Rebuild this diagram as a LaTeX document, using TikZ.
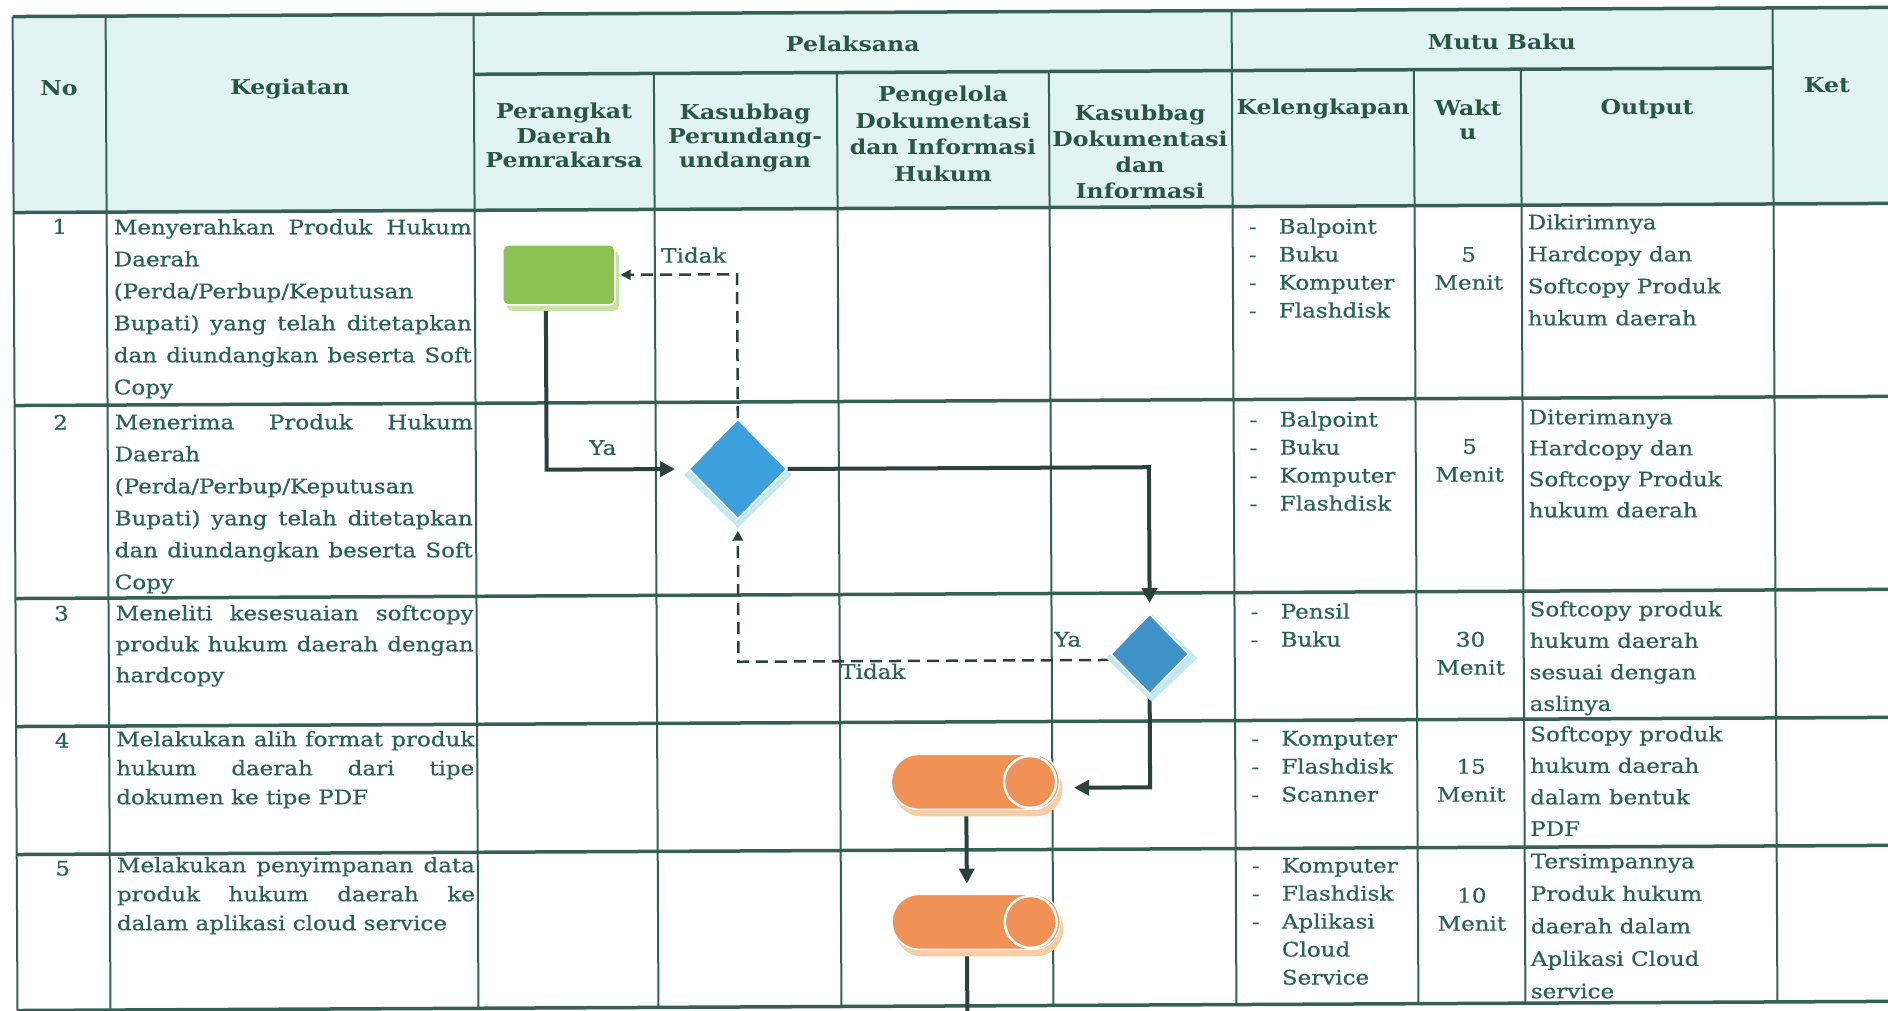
\documentclass[tikz,border=0pt]{standalone}
\usepackage{fontspec}
\setmainfont{DejaVu Serif}[FakeStretch=1.15,UprightFeatures={FakeBold=0.5}]
\usetikzlibrary{arrows.meta,shapes.geometric,calc}
\definecolor{tline}{RGB}{55,96,84}
\definecolor{ttext}{RGB}{42,98,84}
\definecolor{htext}{RGB}{42,86,72}
\definecolor{hbg}{RGB}{226,243,243}
\definecolor{conn}{RGB}{44,64,60}
\definecolor{gfill}{RGB}{140,194,82}
\definecolor{gshade}{RGB}{200,228,165}
\definecolor{bfillA}{RGB}{60,160,220}
\definecolor{bfillB}{RGB}{62,146,200}
\definecolor{bshade}{RGB}{195,232,240}
\definecolor{ofill}{RGB}{240,146,86}
\definecolor{oshade}{RGB}{248,204,165}
\pgfdeclarelayer{tab}
\pgfdeclarelayer{edges}
\pgfsetlayers{tab,edges,main}
\newcommand{\fl}{\rule{0pt}{16pt}}
\newcommand{\flh}{\rule{0pt}{15pt}}
\newcommand{\jk}[1]{\makebox[358pt][s]{#1}}
\begin{document}
\begin{tikzpicture}[x=1pt,y=-1pt,
  hl/.style={line width=3.5pt,draw=tline},
  vl/.style={line width=2pt,draw=tline},
  hdr/.style={text=htext,inner sep=0pt,align=center,font=\fontsize{20.5}{25}\selectfont\bfseries},
  body/.style={text=ttext,inner sep=0pt,align=left,anchor=north west},
  bodyc/.style={text=ttext,inner sep=0pt,align=center,anchor=north},
  lsp/.style={font=\fontsize{20}{#1}\selectfont},
  num/.style={text=ttext,inner sep=0pt,font=\fontsize{20}{24}\selectfont},
  lbl/.style={text=ttext,inner sep=0pt,font=\fontsize{20}{24}\selectfont},
  gsh/.style={fill=gshade,rounded corners=5pt,minimum width=112pt,minimum height=60pt,inner sep=0pt},
  gbox/.style={fill=gfill,draw=white,line width=1.5pt,rounded corners=5pt,minimum width=112pt,minimum height=60pt,inner sep=0pt},
  dia/.style={diamond,inner sep=0pt,draw=white,line width=1.5pt},
  capsule/.style={rounded corners=27pt,minimum width=168pt,minimum height=55pt,inner sep=0pt},
  solidc/.style={draw=conn,line width=4pt,-{Triangle[length=15pt,width=15pt]}},
  dashc/.style={draw=conn,line width=2.5pt,dash pattern=on 12pt off 7pt,-{Triangle[length=10pt,width=10pt]}}
]
\useasboundingbox (0,0) rectangle (1888,1010);
\begin{pgfonlayer}{tab}
\fill[white] (0,0) rectangle (1888,1010);
\end{pgfonlayer}
\begin{scope}[rotate around={0.28:(944,505)}]
% ---------- table ----------
\begin{pgfonlayer}{tab}
\fill[hbg] (15,12) rectangle (1910,208);
\draw[hl] (15,12) -- (1910,12);
\draw[hl] (476,72) -- (1775,72);
\foreach \yy in {208,401,594,722,850,1006} \draw[hl] (15,\yy) -- (1910,\yy);
\foreach \xx in {15,108,476,1234,1775} \draw[vl] (\xx,12) -- (\xx,1006);
\foreach \xx in {656,839,1051,1416,1523} \draw[vl] (\xx,72) -- (\xx,1006);
\end{pgfonlayer}
% ---------- header ----------
\node[hdr] (hno) at (61,84) {No};
\node[hdr] (hkeg) at (292,86) {Kegiatan};
\node[hdr] (hpel) at (855,43) {Pelaksana};
\node[hdr] (hmutu) at (1504,45) {Mutu Baku};
\node[hdr] (hket) at (1829,89) {Ket};
\node[hdr,anchor=north,font=\fontsize{20.5}{24.5}\selectfont\bfseries] (hper) at (566,101) {\flh Perangkat\\Daerah\\Pemrakarsa};
\node[hdr,anchor=north,font=\fontsize{20.5}{24}\selectfont\bfseries] (hkas) at (747,103) {\flh Kasubbag\\Perundang-\\undangan};
\node[hdr,anchor=north,font=\fontsize{20.5}{26.5}\selectfont\bfseries] (hpen) at (945,86) {\flh Pengelola\\Dokumentasi\\dan Informasi\\Hukum};
\node[hdr,anchor=north,font=\fontsize{20.5}{26}\selectfont\bfseries] (hkd) at (1142,106) {\flh Kasubbag\\Dokumentasi\\dan\\Informasi};
\node[hdr] (hkel) at (1325,111) {Kelengkapan};
\node[hdr,anchor=north,font=\fontsize{20.5}{24}\selectfont\bfseries] (hwak) at (1470,102) {\flh Wakt\\u};
\node[hdr] (hout) at (1649,112) {Output};
% ---------- numbers ----------
\node[num] (n1) at (61,222) {1};
\node[num] (n2) at (61,418) {2};
\node[num] (n3) at (61,609) {3};
\node[num] (n4) at (61,736) {4};
\node[num] (n5) at (61,864) {5};
% ---------- kegiatan ----------
\node[body,lsp=32] (k1) at (115,214) {\fl\jk{Menyerahkan Produk Hukum}\\Daerah\\(Perda/Perbup/Keputusan\\\jk{Bupati) yang telah ditetapkan}\\\jk{dan diundangkan beserta Soft}\\Copy};
\node[body,lsp=32] (k2) at (115,409) {\fl\jk{Menerima Produk Hukum}\\Daerah\\(Perda/Perbup/Keputusan\\\jk{Bupati) yang telah ditetapkan}\\\jk{dan diundangkan beserta Soft}\\Copy};
\node[body,lsp=31] (k3) at (115,600) {\fl\jk{Meneliti kesesuaian softcopy}\\\jk{produk hukum daerah dengan}\\hardcopy};
\node[body,lsp=29] (k4) at (115,726) {\fl\jk{Melakukan alih format produk}\\\jk{hukum daerah dari tipe}\\dokumen ke tipe PDF};
\node[body,lsp=29] (k5) at (115,852) {\fl\jk{Melakukan penyimpanan data}\\\jk{produk hukum daerah ke}\\dalam aplikasi cloud service};
% ---------- kelengkapan ----------
\node[body,lsp=28] (b1) at (1250,219) {\fl -\\-\\-\\-};
\node[body,lsp=28] (l1) at (1280,219) {\fl Balpoint\\Buku\\Komputer\\Flashdisk};
\node[body,lsp=28] (b2) at (1250,412) {\fl -\\-\\-\\-};
\node[body,lsp=28] (l2) at (1280,412) {\fl Balpoint\\Buku\\Komputer\\Flashdisk};
\node[body,lsp=28] (b3) at (1250,604) {\fl -\\-};
\node[body,lsp=28] (l3) at (1280,604) {\fl Pensil\\Buku};
\node[body,lsp=28] (b4) at (1250,731) {\fl -\\-\\-};
\node[body,lsp=28] (l4) at (1280,731) {\fl Komputer\\Flashdisk\\Scanner};
\node[body,lsp=28] (b5) at (1250,858) {\fl -\\-\\-};
\node[body,lsp=28] (l5) at (1280,858) {\fl Komputer\\Flashdisk\\Aplikasi\\Cloud\\Service};
% ---------- waktu ----------
\node[bodyc,lsp=28] (w1) at (1470,248) {\fl 5\\Menit};
\node[bodyc,lsp=28] (w2) at (1470,440) {\fl 5\\Menit};
\node[bodyc,lsp=28] (w3) at (1470,633) {\fl 30\\Menit};
\node[bodyc,lsp=28] (w4) at (1470,760) {\fl 15\\Menit};
\node[bodyc,lsp=28] (w5) at (1470,889) {\fl 10\\Menit};
% ---------- output ----------
\node[body,lsp=32] (o1) at (1529,216) {\fl Dikirimnya\\Hardcopy dan\\Softcopy Produk\\hukum daerah};
\node[body,lsp=31] (o2) at (1529,411) {\fl Diterimanya\\Hardcopy dan\\Softcopy Produk\\hukum daerah};
\node[body,lsp=31.5] (o3) at (1529,603) {\fl Softcopy produk\\hukum daerah\\sesuai dengan\\aslinya};
\node[body,lsp=31.5] (o4) at (1529,728) {\fl Softcopy produk\\hukum daerah\\dalam bentuk\\PDF};
\node[body,lsp=32.5] (o5) at (1529,855) {\fl Tersimpannya\\Produk hukum\\daerah dalam\\Aplikasi Cloud\\service};
% ---------- shapes ----------
\node[gsh] (gs) at (564,279) {};
\node[gbox] (g) at (560,273) {};
\node[dia,fill=bshade,draw=none,minimum width=108pt,minimum height=106pt] (d1s) at (738,474) {};
\node[dia,fill=bfillA,minimum width=98pt,minimum height=100pt] (d1) at (738,468) {};
\node[dia,fill=bshade,draw=none,minimum width=92pt,minimum height=88pt] (d2s) at (1151,659) {};
\node[dia,fill=bfillB,minimum width=78pt,minimum height=80pt] (d2) at (1149,655) {};
\node[capsule,fill=oshade] (c1s) at (977,789) {};
\node[capsule,fill=ofill,draw=white,line width=1.5pt] (c1) at (974,782) {};
\draw[white,line width=2.5pt,fill=ofill] ($(c1.east)+(-30,0)$) circle[radius=26pt];
\node[capsule,fill=oshade] (c2s) at (977,929) {};
\node[capsule,fill=ofill,draw=white,line width=1.5pt] (c2) at (974,922) {};
\draw[white,line width=2.5pt,fill=ofill] ($(c2.east)+(-30,0)$) circle[radius=26pt];
\coordinate (endp) at (965,1030);
% ---------- labels ----------
\node[lbl] (ya1) at (603,446) {Ya};
\node[lbl] (td1) at (695,254) {Tidak};
\node[lbl] (ya2) at (1067,640) {Ya};
\node[lbl] (td2) at (872,671) {Tidak};
% ---------- connectors ----------
\begin{pgfonlayer}{edges}
\draw[solidc,shorten >=13pt] ([xshift=-13pt]g.south) |- (d1.west);
\draw[solidc,shorten >=10pt] (d1.east) -| (d2.north);
\draw[solidc,shorten >=14pt] (d2.south) |- ([yshift=-6pt]c1.east);
\draw[solidc,shorten >=10pt] ([xshift=-9pt]c1.south) -- ([xshift=-9pt]c2.north);
\draw[draw=conn,line width=4pt] ([xshift=-9pt]c2.south) -- (endp);
\draw[dashc,shorten >=5pt] (d1.north) |- (g.east);
\draw[dashc,shorten >=11pt] ([yshift=-6pt]d2.west) -| (d1.south);
\end{pgfonlayer}
\end{scope}
\end{tikzpicture}
\end{document}
